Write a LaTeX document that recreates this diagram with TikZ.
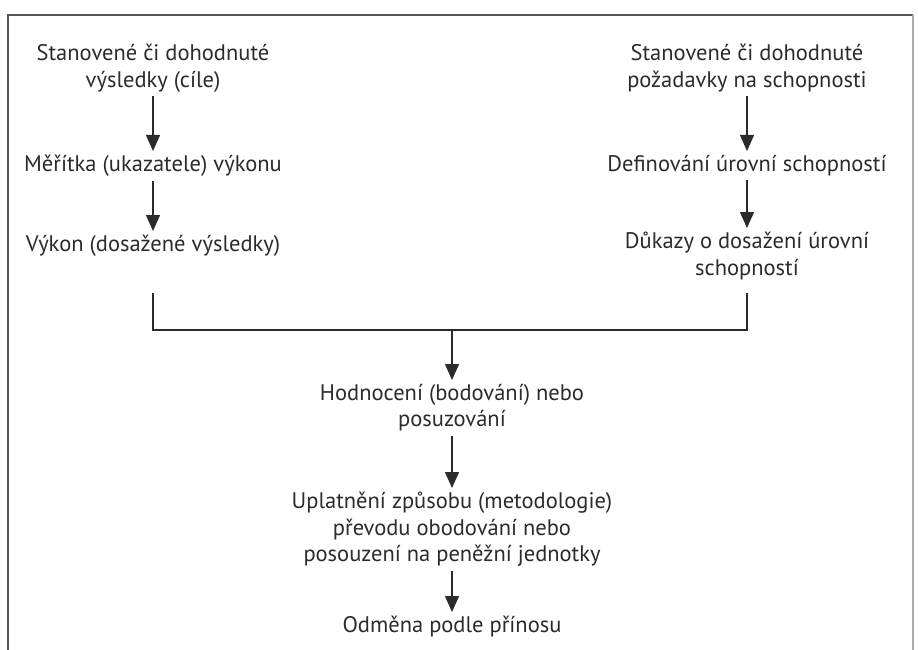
\documentclass[tikz,border=0pt]{standalone}
\usepackage{fontspec}
\setmainfont{PT Sans}
\usetikzlibrary{arrows.meta}
\definecolor{ink}{HTML}{2B2B2B}
\definecolor{framegray}{HTML}{555555}
\begin{document}
\begin{tikzpicture}[x=1pt, y=-1pt,
    txt/.style={align=center, text=ink, font=\fontsize{22.5}{26.5}\selectfont, inner sep=4pt},
    arr/.style={draw=ink, line width=1.3pt, -{Triangle[width=14pt,length=16pt]}},
    link/.style={draw=ink, line width=1.3pt}]
    \useasboundingbox (0,0) rectangle (918,650);

    % Draw frame
    \draw[framegray, line width=1.5pt] (8,650) -- (8,15) -- (913,15);
    \draw[framegray!50, line width=1.2pt] (913,15) -- (913,650);

    % Left column
    \node[txt, anchor=north] (cile) at (153,40) {Stanovené či dohodnuté\\výsledky (cíle)};
    \node[txt, anchor=north] (meritka) at (153,151) {Měřítka (ukazatele) výkonu};
    \node[txt, anchor=north] (vykon) at (153,231) {Výkon (dosažené výsledky)};

    % Right column
    \node[txt, anchor=north] (pozadavky) at (747,40) {Stanovené či dohodnuté\\požadavky na schopnosti};
    \node[txt, anchor=north] (urovne) at (747,151) {Definování úrovní schopností};
    \node[txt, anchor=north] (dukazy) at (747,228) {Důkazy o dosažení úrovní\\schopností};

    % Centre column
    \node[txt, anchor=north] (hodnoceni) at (452,380) {Hodnocení (bodování) nebo\\posuzování};
    \node[txt, anchor=north] (prevod) at (452,488) {Uplatnění způsobu (metodologie)\\převodu obodování nebo\\posouzení na peněžní jednotky};
    \node[txt, anchor=north] (odmena) at (452,612) {Odměna podle přínosu};

    % Arrows
    \draw[arr] (cile) -- (meritka);
    \draw[arr] (meritka) -- (vykon);
    \draw[arr] (pozadavky) -- (urovne);
    \draw[arr] (urovne) -- (dukazy);

    % Join both columns
    \coordinate (lft) at (153,293);
    \coordinate (rgt) at (747,293);
    \coordinate (join) at (452,330);
    \draw[link] (lft) |- (join) -| (rgt);
    \draw[arr] (join) -- (hodnoceni);
    \draw[arr] (hodnoceni) -- (prevod);
    \draw[arr] (prevod) -- (odmena);
\end{tikzpicture}
\end{document}
